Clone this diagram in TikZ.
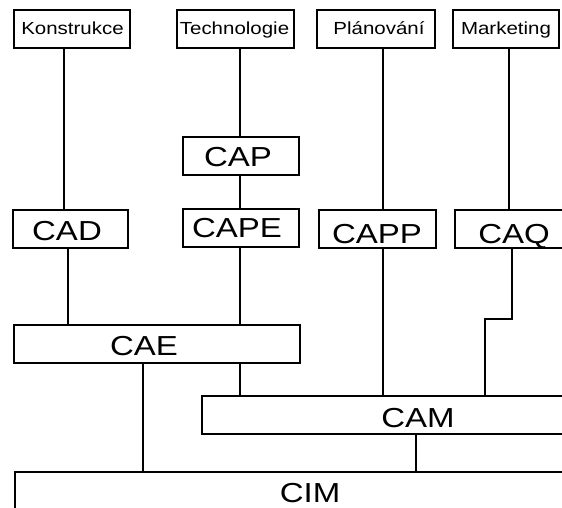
\documentclass[tikz,border=0pt]{standalone}
\usepackage{fontspec}
\setmainfont{Liberation Sans}
\usepackage{graphicx}
\newcommand\hsx[2]{\scalebox{#1}[1]{#2}}
\begin{document}
\begin{tikzpicture}[x=1pt,y=-1pt,
  box/.style={draw, line width=1.2pt, inner sep=0pt, fill=white},
  small/.style={anchor=base, inner sep=0pt, font=\fontsize{17.5}{19}\selectfont},
  big/.style={anchor=base, inner sep=0pt, font=\fontsize{27.5}{30}\selectfont},
  conn/.style={line width=1.2pt}]
\useasboundingbox (0,0) rectangle (562,507);
\clip (0,0) rectangle (562,507);
% top row
\node[box, minimum width=116, minimum height=38] (kon) at (72,29) {};
\node[box, minimum width=117, minimum height=38] (tec) at (235.5,29) {};
\node[box, minimum width=118, minimum height=38] (pla) at (376,29) {};
\node[box, minimum width=106, minimum height=38] (mar) at (506,29) {};
\node[small] (kont) at (72.5,34.5) {\hsx{1.17}{Konstrukce}};
\node[small] (tect) at (234.5,34.5) {\hsx{1.17}{Technologie}};
\node[small] (plat) at (379,34.5) {\hsx{1.17}{Plánování}};
\node[small] (mart) at (506,34.5) {\hsx{1.17}{Marketing}};
% middle
\node[box, minimum width=116, minimum height=38] (cap) at (241,156) {};
\node[box, minimum width=116, minimum height=38] (cape) at (241,228) {};
\node[box, minimum width=115, minimum height=38] (cad) at (70.5,229) {};
\node[box, minimum width=117, minimum height=38] (capp) at (377.5,229) {};
\node[box, minimum width=116, minimum height=38] (caq) at (513,229) {};
\node[big] (capt) at (238,166) {\hsx{1.2}{CAP}};
\node[big] (capet) at (237,237.5) {\hsx{1.2}{CAPE}};
\node[big] (cadt) at (67,240.5) {\hsx{1.2}{CAD}};
\node[big] (cappt) at (377,243) {\hsx{1.2}{CAPP}};
\node[big] (caqt) at (514,243) {\hsx{1.2}{CAQ}};
% lower
\node[box, minimum width=286, minimum height=38] (cae) at (157,344) {};
\node[big] (caet) at (144,355) {\hsx{1.2}{CAE}};
\node[box, minimum width=432, minimum height=38] (cam) at (418,415) {};
\node[big] (camt) at (418,427) {\hsx{1.2}{CAM}};
\node[box, minimum width=590, minimum height=48] (cim) at (310,496) {};
\node[big] (cimt) at (310,502) {\hsx{1.2}{CIM}};
% connectors
\draw[conn] (64,0 |- kon.south) -- (64,0 |- cad.north);
\draw[conn] (68,0 |- cad.south) -- (68,0 |- cae.north);
\draw[conn] (240,0 |- tec.south) -- (240,0 |- cap.north);
\draw[conn] (240,0 |- cap.south) -- (240,0 |- cape.north);
\draw[conn] (240,0 |- cape.south) -- (240,0 |- cae.north);
\draw[conn] (240,0 |- cae.south) -- (240,0 |- cam.north);
\draw[conn] (383,0 |- pla.south) -- (383,0 |- capp.north);
\draw[conn] (383,0 |- capp.south) -- (383,0 |- cam.north);
\draw[conn] (509,0 |- mar.south) -- (509,0 |- caq.north);
\coordinate (bend) at (512,319);
\draw[conn] (512,0 |- caq.south) -- (bend) -- (485,319) -- (485,0 |- cam.north);
\draw[conn] (143,0 |- cae.south) -- (143,0 |- cim.north);
\draw[conn] (416,0 |- cam.south) -- (416,0 |- cim.north);
\end{tikzpicture}
\end{document}
